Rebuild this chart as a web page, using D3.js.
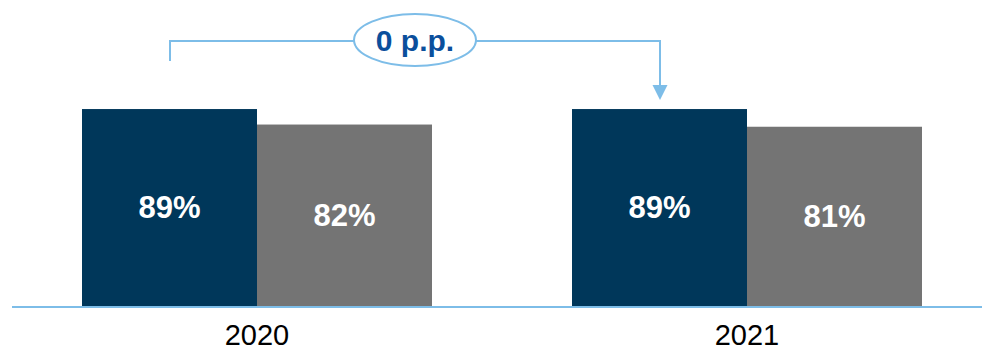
<!DOCTYPE html>
<html>
<head>
<meta charset="utf-8">
<script src="https://cdn.jsdelivr.net/npm/d3@7"></script>
<style>
  html, body { margin: 0; padding: 0; background: #fff; }
  svg { display: block; }
</style>
</head>
<body>
<svg id="chart" width="982" height="351"></svg>
<script>
// Data
const years = ["2020", "2021"];
const seriesKeys = ["a", "b"];
const seriesA = [89, 89];   // navy bars
const seriesB = [82, 81];   // gray bars
const changeLabel = "0 p.p.";

const colors = { a: "#00375a", b: "#747474" };
const accent = "#7dbde8";

const svg = d3.select("#chart");
const W = 982;
const axisY = 306;

// Group positions: each pair of bars sits under its year label
const xGroup = d3.scalePoint().domain(years).range([82, 572]);
const groupWidth = 350;
const x1 = d3.scaleBand().domain(seriesKeys).range([0, groupWidth]).padding(0);
const y = d3.scaleLinear().domain([0, 100]).range([axisY, axisY - 221.3]);

const rows = years.map((yr, i) => ({ year: yr, a: seriesA[i], b: seriesB[i] }));

const g = svg.append("g");

const groups = g.selectAll("g.grp").data(rows).join("g")
  .attr("class", "grp")
  .attr("transform", d => `translate(${xGroup(d.year)},0)`);

groups.selectAll("rect").data(d => seriesKeys.map(k => ({ key: k, value: d[k] })))
  .join("rect")
  .attr("x", d => x1(d.key))
  .attr("y", d => y(d.value))
  .attr("width", x1.bandwidth())
  .attr("height", d => y(0) - y(d.value))
  .attr("fill", d => colors[d.key]);

groups.selectAll("text.val").data(d => seriesKeys.map(k => ({ key: k, value: d[k] })))
  .join("text")
  .attr("class", "val")
  .attr("x", d => x1(d.key) + x1.bandwidth() / 2)
  .attr("y", d => (y(d.value) + y(0)) / 2)
  .attr("text-anchor", "middle")
  .attr("dominant-baseline", "central")
  .attr("fill", "#fff")
  .attr("font-family", "Liberation Sans, Arial, sans-serif")
  .attr("font-weight", "bold")
  .attr("font-size", 31)
  .text(d => d.value + "%");

// Baseline
g.append("line")
  .attr("x1", 12).attr("x2", W)
  .attr("y1", axisY + 1).attr("y2", axisY + 1)
  .attr("stroke", accent).attr("stroke-width", 2);

// Year labels
g.selectAll("text.year").data(years).join("text")
  .attr("class", "year")
  .attr("x", d => xGroup(d) + groupWidth / 2)
  .attr("y", 344.5)
  .attr("text-anchor", "middle")
  .attr("fill", "#000")
  .attr("font-family", "Liberation Sans, Arial, sans-serif")
  .attr("font-size", 29)
  .text(d => d);

// Change bracket with arrow
const startX = 170, endX = 660, lineY = 41;
const ell = { cx: 415, cy: 40, rx: 61, ry: 26 };

g.append("path")
  .attr("d", `M${startX},61 V${lineY} H${ell.cx - ell.rx}`)
  .attr("fill", "none").attr("stroke", accent).attr("stroke-width", 2);

g.append("path")
  .attr("d", `M${ell.cx + ell.rx},${lineY} H${endX} V86`)
  .attr("fill", "none").attr("stroke", accent).attr("stroke-width", 2);

g.append("path")
  .attr("d", `M${endX - 7.5},85 L${endX + 7.5},85 L${endX},100 Z`)
  .attr("fill", accent);

g.append("ellipse")
  .attr("cx", ell.cx).attr("cy", ell.cy)
  .attr("rx", ell.rx).attr("ry", ell.ry)
  .attr("fill", "#fff").attr("stroke", accent).attr("stroke-width", 2);

g.append("text")
  .attr("x", ell.cx).attr("y", 51)
  .attr("text-anchor", "middle")
  .attr("fill", "#0b4f9c")
  .attr("font-family", "Liberation Sans, Arial, sans-serif")
  .attr("font-weight", "bold")
  .attr("font-size", 30)
  .text(changeLabel);
</script>
</body>
</html>
